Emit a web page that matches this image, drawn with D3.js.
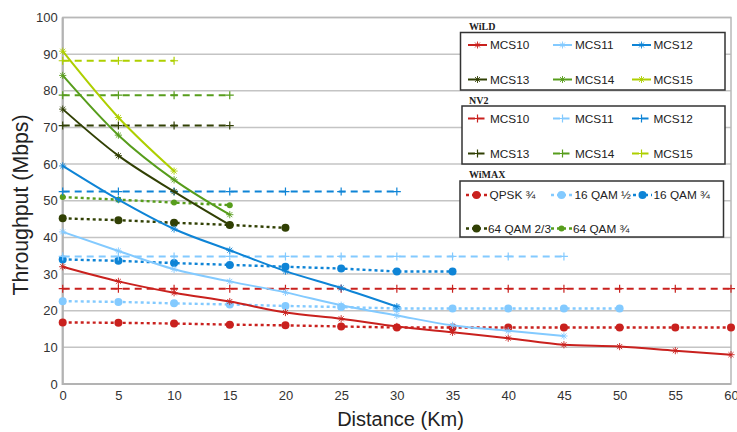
<!DOCTYPE html>
<html><head><meta charset="utf-8">
<script src="https://cdn.jsdelivr.net/npm/d3@7"></script>
<style>body{margin:0;background:#fff}svg{display:block;font-family:"Liberation Sans",Arial,sans-serif}</style>
</head><body><svg id="c" width="737" height="432"></svg>
<script>
const distances = [0,5,10,15,20,25,30,35,40,45,50,55,60];
const mcsNames = ["MCS10","MCS11","MCS12","MCS13","MCS14","MCS15"];
const wimaxNames = ["QPSK ¾","16 QAM ½","16 QAM ¾","64 QAM 2/3","64 QAM ¾"];
const yTicks = [0,10,20,30,40,50,60,70,80,90,100];
const xTicks = [0,5,10,15,20,25,30,35,40,45,50,55,60];

// WiLD (solid)
const wildMCS10 = [32.0,28.0,24.9,22.5,19.5,17.8,15.7,14.1,12.5,10.7,10.2,9.1,8.0];
const wildMCS11 = [41.5,36.3,31.3,28.0,25.0,21.5,18.7,16.0,14.5,13.1];
const wildMCS12 = [59.5,50.3,42.3,36.5,30.8,26.2,21.1];
const wildMCS13 = [75.0,62.3,52.5,43.4];
const wildMCS14 = [84.2,67.9,55.7,46.2];
const wildMCS15 = [90.8,72.7,58.1];
// NV2 (dashed)
const nv2MCS10 = [26,26,26,26,26,26,26,26,26,26,26,26,26];
const nv2MCS11 = [34.8,34.8,34.8,34.8,34.8,34.8,34.8,34.8,34.8,34.8];
const nv2MCS12 = [52.5,52.5,52.5,52.5,52.5,52.5,52.5];
const nv2MCS13 = [70.5,70.5,70.5,70.5];
const nv2MCS14 = [78.8,78.8,78.8,78.8];
const nv2MCS15 = [88.2,88.2,88.2];
// WiMAX (dotted)
const wimaxQPSK34 = [16.8,16.7,16.5,16.2,16.0,15.7,15.4,15.4,15.4,15.4,15.4,15.4,15.4];
const wimax16QAM12 = [22.6,22.4,22.0,21.7,21.3,21.0,20.6,20.6,20.6,20.6,20.6];
const wimax16QAM34 = [34.0,33.6,33.0,32.5,32.0,31.5,30.7,30.7];
const wimax64QAM23 = [45.2,44.7,44.0,43.4,42.6];
const wimax64QAM34 = [51.0,50.3,49.5,48.8];

const colors = ["#c9211e","#83caff","#0e84d6","#314004","#579d1c","#aecf00"];

const svg = d3.select("#c");
const x = d3.scaleLinear().domain([0,60]).range([62.7,731]);
const y = d3.scaleLinear().domain([0,100]).range([384,17.5]);

// grid
svg.append("g").selectAll("line").data(yTicks).join("line")
  .attr("x1",x(0)).attr("x2",x(60)).attr("y1",d=>y(d)).attr("y2",d=>y(d))
  .attr("stroke","#c4c4c4").attr("stroke-width",1.5);
// border
svg.append("rect").attr("x",x(0)).attr("y",y(100)).attr("width",x(60)-x(0)).attr("height",y(0)-y(100))
  .attr("fill","none").attr("stroke","#b8b8b8").attr("stroke-width",1.5);
svg.append("line").attr("x1",x(0)).attr("x2",x(0)).attr("y1",y(100)).attr("y2",y(0)+1).attr("stroke","#b3b3b3").attr("stroke-width",2.2);
svg.append("line").attr("x1",x(0)).attr("x2",x(60)).attr("y1",y(0)).attr("y2",y(0)).attr("stroke","#b3b3b3").attr("stroke-width",2.2);

// axes (labels only)
const yAxis = d3.axisLeft(y).tickValues(yTicks).tickSize(0).tickPadding(5);
const gy = svg.append("g").attr("transform",`translate(${x(0)},0)`).call(yAxis);
gy.select(".domain").remove();
gy.selectAll("text").attr("font-size",13).attr("fill","#333").attr("font-family","Liberation Sans, Arial, sans-serif");
const xAxis = d3.axisBottom(x).tickValues(xTicks).tickSize(0).tickPadding(7);
const gx = svg.append("g").attr("transform",`translate(0,${y(0)})`).call(xAxis);
gx.select(".domain").remove();
gx.selectAll("text").attr("font-size",13).attr("fill","#333").attr("font-family","Liberation Sans, Arial, sans-serif");

svg.append("text").attr("x",400.5).attr("y",426).attr("text-anchor","middle")
  .attr("font-size",20).attr("fill","#222").text("Distance (Km)");
svg.append("text").attr("transform","translate(27.5,205) rotate(-90)").attr("text-anchor","middle")
  .attr("font-size",21.3).attr("fill","#222").text("Throughput (Mbps)");

const toPts = arr => arr.map((v,i)=>[distances[i],v]);
const lineStraight = d3.line().x(d=>x(d[0])).y(d=>y(d[1]));
const lineSmooth = d3.line().x(d=>x(d[0])).y(d=>y(d[1])).curve(d3.curveMonotoneX);

function star(g, cx, cy, c, r){
  const p = `M${cx-r},${cy}L${cx+r},${cy}M${cx},${cy-r}L${cx},${cy+r}M${cx-r*0.7},${cy-r*0.7}L${cx+r*0.7},${cy+r*0.7}M${cx-r*0.7},${cy+r*0.7}L${cx+r*0.7},${cy-r*0.7}`;
  g.append("path").attr("d",p).attr("stroke",c).attr("stroke-width",0.9).attr("fill","none");
}
function plus(g, cx, cy, c, r){
  g.append("path").attr("d",`M${cx-r},${cy}L${cx+r},${cy}M${cx},${cy-r}L${cx},${cy+r}`)
   .attr("stroke",c).attr("stroke-width",1.2).attr("fill","none");
}

const wimax = [wimaxQPSK34,wimax16QAM12,wimax16QAM34,wimax64QAM23,wimax64QAM34];
const wimaxColors = [colors[0],colors[1],colors[2],colors[3],colors[4]];
const nv2 = [nv2MCS10,nv2MCS11,nv2MCS12,nv2MCS13,nv2MCS14,nv2MCS15];
const wild = [wildMCS10,wildMCS11,wildMCS12,wildMCS13,wildMCS14,wildMCS15];

const gW = svg.append("g");
wimax.forEach((arr,i)=>{
  const pts = toPts(arr);
  gW.append("path").attr("d",lineStraight(pts)).attr("fill","none").attr("stroke",wimaxColors[i])
    .attr("stroke-width",2.4).attr("stroke-dasharray","3,3");
  gW.selectAll(null).data(pts).join("circle").attr("cx",d=>x(d[0])).attr("cy",d=>y(d[1]))
    .attr("r", i===4?3:4).attr("fill",wimaxColors[i]);
});
const gN = svg.append("g");
nv2.forEach((arr,i)=>{
  const pts = toPts(arr);
  gN.append("path").attr("d",lineStraight(pts)).attr("fill","none").attr("stroke",colors[i])
    .attr("stroke-width",2).attr("stroke-dasharray","7,5");
  pts.forEach(d=>plus(gN,x(d[0]),y(d[1]),colors[i],4));
});
const gL = svg.append("g");
wild.forEach((arr,i)=>{
  const pts = toPts(arr);
  gL.append("path").attr("d",lineSmooth(pts)).attr("fill","none").attr("stroke",colors[i])
    .attr("stroke-width",2);
  pts.forEach(d=>star(gL,x(d[0]),y(d[1]),colors[i],3.6));
});

// legends
const lg = svg.append("g");
function legendTitle(t, lx, ly){
  lg.append("text").attr("x",lx).attr("y",ly).attr("font-family","Liberation Serif, serif")
    .attr("font-weight","bold").attr("font-size",10).attr("fill","#222").text(t);
}
function box(bx,by,bw,bh){
  lg.append("rect").attr("x",bx).attr("y",by).attr("width",bw).attr("height",bh)
    .attr("fill","#fff").attr("stroke","#333").attr("stroke-width",1.5);
}
const colSym = [[468,487],[553,572],[632,651]];
const colTxt = [490,575,653.5];
function legendText(t,tx,ty){
  lg.append("text").attr("x",tx).attr("y",ty+4.2).attr("font-size",11.8).attr("fill","#222").text(t);
}

legendTitle("WiLD",469,30);
box(460.5,32.5,264.5,57.5);
mcsNames.forEach((n,i)=>{
  const r = Math.floor(i/3), c = i%3, ly = r===0?45:79.5;
  lg.append("line").attr("x1",colSym[c][0]).attr("x2",colSym[c][1]).attr("y1",ly).attr("y2",ly)
    .attr("stroke",colors[i]).attr("stroke-width",2);
  star(lg,(colSym[c][0]+colSym[c][1])/2,ly,colors[i],3.5);
  legendText(n,colTxt[c],ly);
});

legendTitle("NV2",469,103.5);
box(462,106,263,58);
mcsNames.forEach((n,i)=>{
  const r = Math.floor(i/3), c = i%3, ly = r===0?118.5:153.5;
  lg.append("line").attr("x1",colSym[c][0]).attr("x2",colSym[c][1]).attr("y1",ly).attr("y2",ly)
    .attr("stroke",colors[i]).attr("stroke-width",2).attr("stroke-dasharray","7,2.5");
  plus(lg,(colSym[c][0]+colSym[c][1])/2,ly,colors[i],4);
  legendText(n,colTxt[c],ly);
});

legendTitle("WiMAX",469,177.5);
box(460,181,263.5,56);
const wSym = [[466,487],[551,572],[633,652]];
const wTxt = [[489.5,574.5,653.5],[488,573]];
wimaxNames.forEach((n,i)=>{
  const r = Math.floor(i/3), c = i%3, ly = r===0?195:228.5;
  lg.append("line").attr("x1",wSym[c][0]).attr("x2",wSym[c][1]).attr("y1",ly).attr("y2",ly)
    .attr("stroke",wimaxColors[i]).attr("stroke-width",2.4).attr("stroke-dasharray","3,3");
  lg.append("circle").attr("cx",(wSym[c][0]+wSym[c][1])/2).attr("cy",ly).attr("r",i===4?3:4).attr("fill",wimaxColors[i]);
  legendText(n,wTxt[r][c],ly);
});
</script></body></html>
